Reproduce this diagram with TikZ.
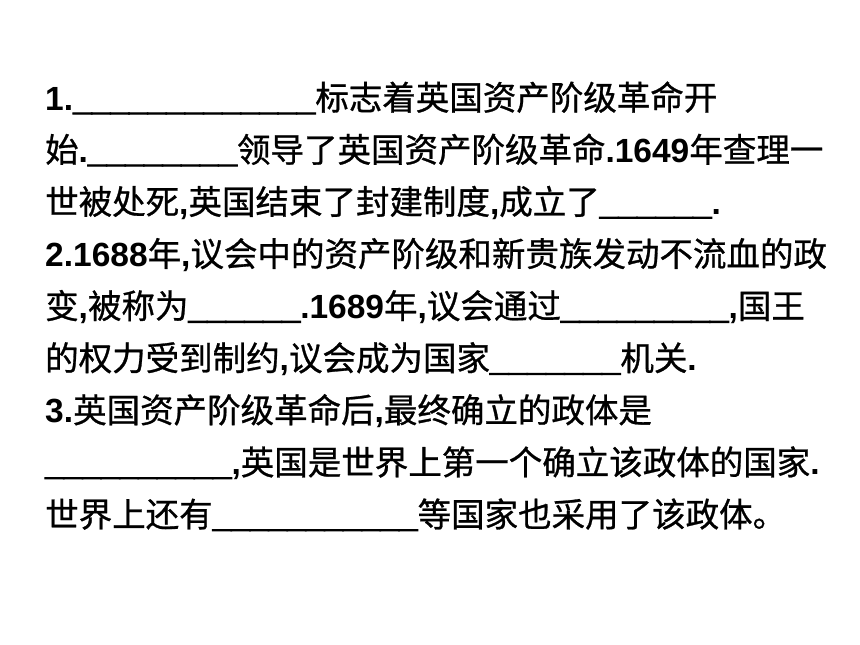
\documentclass[tikz,border=0pt]{standalone}
\usepackage{fontspec}
\setmainfont{Liberation Sans}
\newfontfamily\cjk{Noto Sans CJK SC}[FakeBold=0.8]
\newfontfamily\usfont{Liberation Sans}[FakeBold=3]
\newcommand\C[1]{{\cjk\mdseries #1}}
\newcount\blankcnt
\newcommand\blank[1]{{\usfont\bfseries\blankcnt=0 \loop\_\advance\blankcnt by 1 \ifnum\blankcnt<#1\repeat}}
\begin{document}
\begin{tikzpicture}[x=1pt,y=1pt,
  txtline/.style={anchor=base west, inner sep=0pt, font=\fontsize{33.5}{33.5}\selectfont\bfseries}]
\useasboundingbox (0,0) rectangle (860,-645);
\fill[white] (0,0) rectangle (860,-645);
\node[txtline] (l1) at (45,-110) {1.\blank{13}\C{标志着英国资产阶级革命开}};
\node[txtline] (l2) at (45,-162.1) {\C{始}.\blank{8}\C{领导了英国资产阶级革命}.1649\C{年查理一}};
\node[txtline] (l3) at (45,-214.2) {\C{世被处死},\C{英国结束了封建制度},\C{成立了}\blank{6}.};
\node[txtline] (l4) at (45,-266.3) {2.1688\C{年},\C{议会中的资产阶级和新贵族发动不流血的政}};
\node[txtline] (l5) at (45,-318.4) {\C{变},\C{被称为}\blank{6}.1689\C{年},\C{议会通过}\blank{9},\C{国王}};
\node[txtline] (l6) at (45,-370.5) {\C{的权力受到制约},\C{议会成为国家}\blank{7}\C{机关}.};
\node[txtline] (l7) at (45,-422.6) {3.\C{英国资产阶级革命后},\C{最终确立的政体是}};
\node[txtline] (l8) at (45,-474.7) {\blank{10},\C{英国是世界上第一个确立该政体的国家}.};
\node[txtline] (l9) at (45,-526.8) {\C{世界上还有}\blank{11}\C{等国家也采用了该政体。}};
\end{tikzpicture}
\end{document}
